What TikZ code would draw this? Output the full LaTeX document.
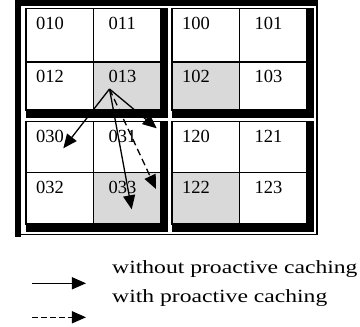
\documentclass[tikz,border=0pt]{standalone}
\usepackage{fontspec}
\setmainfont{Liberation Serif}
\usetikzlibrary{positioning,arrows.meta}
\definecolor{cellclr}{RGB}{217,217,217}
\tikzset{
  cell/.style={rectangle,draw,line width=1.4pt,anchor=north west,
               minimum width=67.5pt,inner sep=0pt,outer sep=0pt},
  hot/.style={cell,fill=cellclr},
  numa/.style={anchor=base west,inner sep=0pt,xshift=10pt,yshift=-20.5pt,
               font=\fontsize{18.5}{22}\selectfont},
  numb/.style={numa,xshift=5pt},
  move/.style={-{Triangle[length=14pt,width=12pt]},line width=1.3pt},
}

\begin{document}
\begin{tikzpicture}[
    x=1pt, y=1pt, node distance=0pt,
    pmove/.style={move,dash pattern=on 7pt off 4pt},
    lmove/.style={move,dash pattern=on 6pt off 3pt},
    legtext/.style={anchor=base west,inner sep=0pt,
                    font=\fontsize{18.6}{22}\selectfont},
  ]
\useasboundingbox (0,0) rectangle (360,-327);
\fill (15,0) rectangle (21,-237);
\fill (15,0) rectangle (318,-6);
\fill (316.5,-6) rectangle (318,-235);
\fill (21,-233.5) rectangle (318,-235);
\node[cell, minimum height=53.5pt, label={[numa]north west:010}] (c010) at (26,-8.5) {};
\node[cell, minimum height=53.5pt, label={[numb]north west:011}, right=of c010] (c011) {};
\node[cell, minimum height=48pt,   label={[numa]north west:012}, below=of c010] (c012) {};
\node[hot,  minimum height=48pt,   label={[numb]north west:013}, right=of c012] (c013) {};
\node[cell, minimum height=53.5pt, label={[numa]north west:100}] (c100) at (172,-8.5) {};
\node[cell, minimum height=53.5pt, label={[numb]north west:101}, right=of c100] (c101) {};
\node[hot,  minimum height=48pt,   label={[numa]north west:102}, below=of c100] (c102) {};
\node[cell, minimum height=48pt,   label={[numb]north west:103}, right=of c102] (c103) {};
\node[cell, minimum height=51pt,   label={[numa]north west:030}] (c030) at (26,-121.5) {};
\node[cell, minimum height=51pt,   label={[numb]north west:031}, right=of c030] (c031) {};
\node[cell, minimum height=51.5pt, label={[numa]north west:032}, below=of c030] (c032) {};
\node[hot,  minimum height=51.5pt, label={[numb]north west:033}, right=of c032] (c033) {};
\node[cell, minimum height=51pt,   label={[numa]north west:120}] (c120) at (172,-121.5) {};
\node[cell, minimum height=51pt,   label={[numb]north west:121}, right=of c120] (c121) {};
\node[hot,  minimum height=51.5pt, label={[numa]north west:122}, below=of c120] (c122) {};
\node[cell, minimum height=51.5pt, label={[numb]north west:123}, right=of c122] (c123) {};
\fill ([yshift=0.5pt]c011.north east) rectangle ([shift={(7pt,-8pt)}]c013.south east);
\fill (c012.south west) rectangle ([shift={(7pt,-8pt)}]c013.south east);
\fill ([yshift=0.5pt]c101.north east) rectangle ([shift={(7pt,-8pt)}]c103.south east);
\fill (c102.south west) rectangle ([shift={(7pt,-8pt)}]c103.south east);
\fill ([yshift=0.5pt]c031.north east) rectangle ([shift={(7pt,-8pt)}]c033.south east);
\fill (c032.south west) rectangle ([shift={(7pt,-8pt)}]c033.south east);
\fill ([yshift=0.5pt]c121.north east) rectangle ([shift={(7pt,-8pt)}]c123.south east);
\fill (c122.south west) rectangle ([shift={(7pt,-8pt)}]c123.south east);
\coordinate (src)  at (109.5,-89);
\coordinate (t030) at (63.3,-148.3);
\coordinate (t031) at (156.7,-128.3);
\coordinate (t033) at (131.7,-209.3);
\coordinate (tpro) at (156,-189);
\draw[move]  (src) -- (t030);
\draw[move]  (src) -- (t031);
\draw[move]  (src) -- (t033);
\draw[pmove] (src) -- (tpro);
\coordinate (la) at (32,-283.3);
\coordinate (lb) at (86,-283.3);
\coordinate (lc) at (32,-317.3);
\coordinate (ld) at (86,-317.3);
\draw[move]  (la) -- (lb);
\draw[lmove] (lc) -- (ld);
\node[legtext] (lwo) at (112,-273.3) {\scalebox{1.27}[1]{without proactive caching}};
\node[legtext] (lw)  at (112,-302.5) {\scalebox{1.27}[1]{with proactive caching}};
\end{tikzpicture}
\end{document}
